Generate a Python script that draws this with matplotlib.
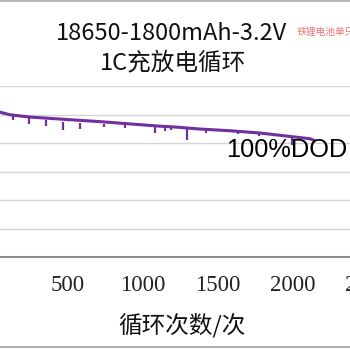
import matplotlib
matplotlib.use('Agg')
import matplotlib.pyplot as plt
from matplotlib.lines import Line2D

# capacity retention (%) vs cycle count
cycles = [0, 20, 47, 113, 247, 447, 713, 913, 1113, 1213, 1380, 1580, 1780, 1980, 2113, 2147]
capacity = [92.2, 91.5, 90.8, 89.9, 89.1, 88.4, 87.5, 86.7, 85.9, 85.6, 84.9, 84.3, 83.5, 82.3, 81.5, 80.8]

# short drops seen in the test record
dip_cycles = [133, 240, 353, 467, 580, 740, 880, 1080, 1147, 1187, 1293, 1420, 1633, 1773, 1993]
dip_top = [89.9, 89.1, 87.9, 87.4, 87.1, 86.5, 86.2, 85.8, 85.7, 85.6, 85.3, 85.0, 84.2, 83.5, 82.2]
dip_bottom = [87.9, 86.7, 86.1, 84.4, 85.0, 85.5, 85.1, 83.6, 84.3, 84.6, 81.1, 83.6, 83.1, 82.4, 79.4]

xticks = [0, 500, 1000, 1500, 2000, 2500]
yticks = [40, 50, 60, 70, 80, 90, 100]

purple = '#7030A0'

fig = plt.figure(figsize=(3.5, 3.5), dpi=100)
ax = fig.add_axes([-7 / 350, 93 / 350, 375 / 350, 171 / 350])

ax.plot(cycles, capacity, color=purple, lw=2.2, solid_capstyle='butt')
ax.vlines(dip_cycles, dip_bottom, dip_top, color=purple, lw=1.6)

ax.set_xlim(0, 2500)
ax.set_ylim(40, 100)
ax.set_xticks(xticks)
ax.set_yticks(yticks)
ax.set_yticklabels([])
ax.grid(axis='y', color='#D4D4D4', lw=1)
ax.set_axisbelow(True)
for s in ['top', 'left', 'right']:
    ax.spines[s].set_visible(False)
ax.spines['bottom'].set_color('#8C8C8C')
ax.spines['bottom'].set_linewidth(1.5)
ax.tick_params(axis='both', length=0)
ax.tick_params(axis='x', pad=13)
for t in ax.get_xticklabels():
    t.set_fontfamily('Liberation Serif')
    t.set_fontsize(16.5)
    t.set_color('#222222')

# label inside the plot, placed in pixels from the top-left like the original
ax.text(226 / 350, 1 - 150 / 350, '100%DOD', transform=fig.transFigure, fontsize=18.3,
        family='Liberation Sans', va='center', ha='left', color='black')

# title block
fig.text(172 / 350, 1 - 33 / 350, '18650-1800mAh-3.2V', ha='center', va='center',
         fontsize=17, family=['Noto Sans CJK SC', 'DejaVu Sans'], color='#111111')
fig.text(173 / 350, 1 - 63 / 350, '1C充放电循环', ha='center', va='center',
         fontsize=17, family=['Noto Sans CJK SC', 'DejaVu Sans'], color='#111111')
fig.text(297 / 350, 1 - 32 / 350, '铁锂电池单只', ha='left', va='center',
         fontsize=7, family=['Noto Sans CJK SC', 'DejaVu Sans'], color='#F07070')

fig.text(182 / 350, 1 - 325 / 350, '循环次数/次', ha='center', va='center',
         fontsize=17, family=['Noto Sans CJK SC', 'DejaVu Sans'], color='#111111')

# outer frame lines of the original chart
fig.add_artist(Line2D([0, 1], [1 - 0.5 / 350, 1 - 0.5 / 350], color='#A8A8A8', lw=1.2))
fig.add_artist(Line2D([0, 1], [3 / 350, 3 / 350], color='#A0A0A0', lw=1.2))

plt.savefig('out.png')
